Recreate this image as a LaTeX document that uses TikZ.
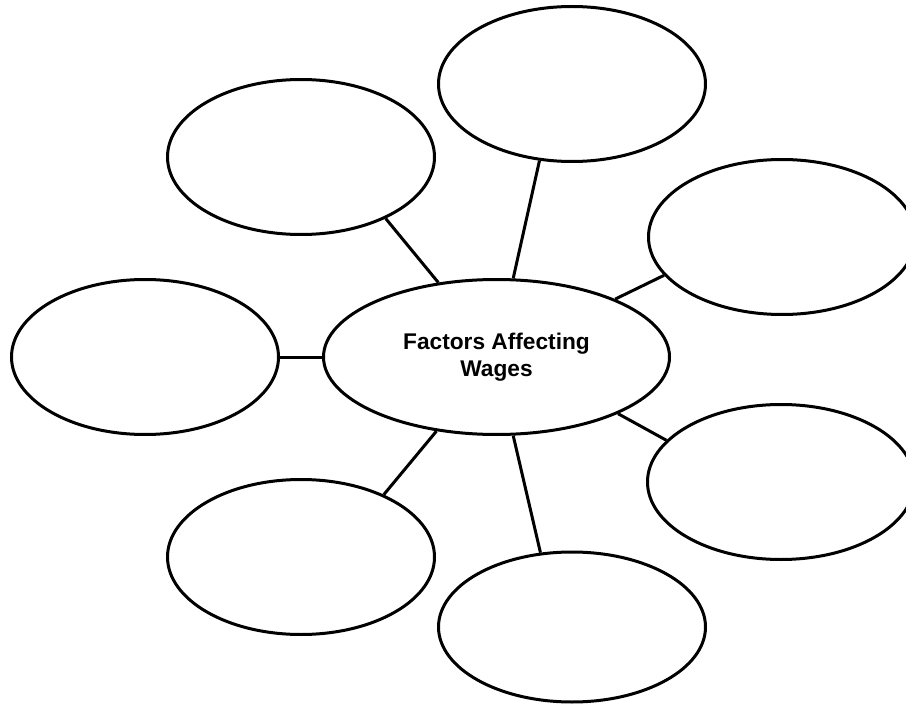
\documentclass[tikz,border=0pt]{standalone}
\usepackage{fontspec}
\setmainfont{Liberation Sans}
\usetikzlibrary{shapes.geometric}
\begin{document}
\begin{tikzpicture}[x=1pt,y=-1pt,
  bubble/.style={ellipse,draw=black,line width=3pt,fill=white,minimum width=267pt,minimum height=155pt,inner sep=0pt},
  hub/.style={ellipse,draw=black,line width=3pt,fill=white,minimum width=346pt,minimum height=155pt,inner sep=0pt,
    font=\fontsize{22.7}{26.6}\selectfont\bfseries,align=center},
  link/.style={draw=black,line width=3pt}]
\useasboundingbox (0,0) rectangle (906,706);
\node[hub] (c) at (496.5,357) {Factors Affecting\\Wages};
\node[bubble] (t) at (572,84) {};
\node[bubble] (ul) at (301,157) {};
\node[bubble] (ru) at (782,237) {};
\node[bubble] (l) at (145,357) {};
\node[bubble] (rl) at (781,482) {};
\node[bubble] (ll) at (301,557) {};
\node[bubble,minimum height=150pt] (b) at (572,627) {};
\draw[link] (c.78.2) -- (t.247.2);
\draw[link] (c.128.9) -- (ul.-36.1);
\draw[link] (c.26.1) -- (ru.198.1);
\draw[link] (c.180) -- (l.0);
\draw[link] (c.-25.7) -- (rl.160.1);
\draw[link] (c.231.1) -- (ll.37);
\draw[link] (c.-78.2) -- (b.113.1);
\end{tikzpicture}
\end{document}
